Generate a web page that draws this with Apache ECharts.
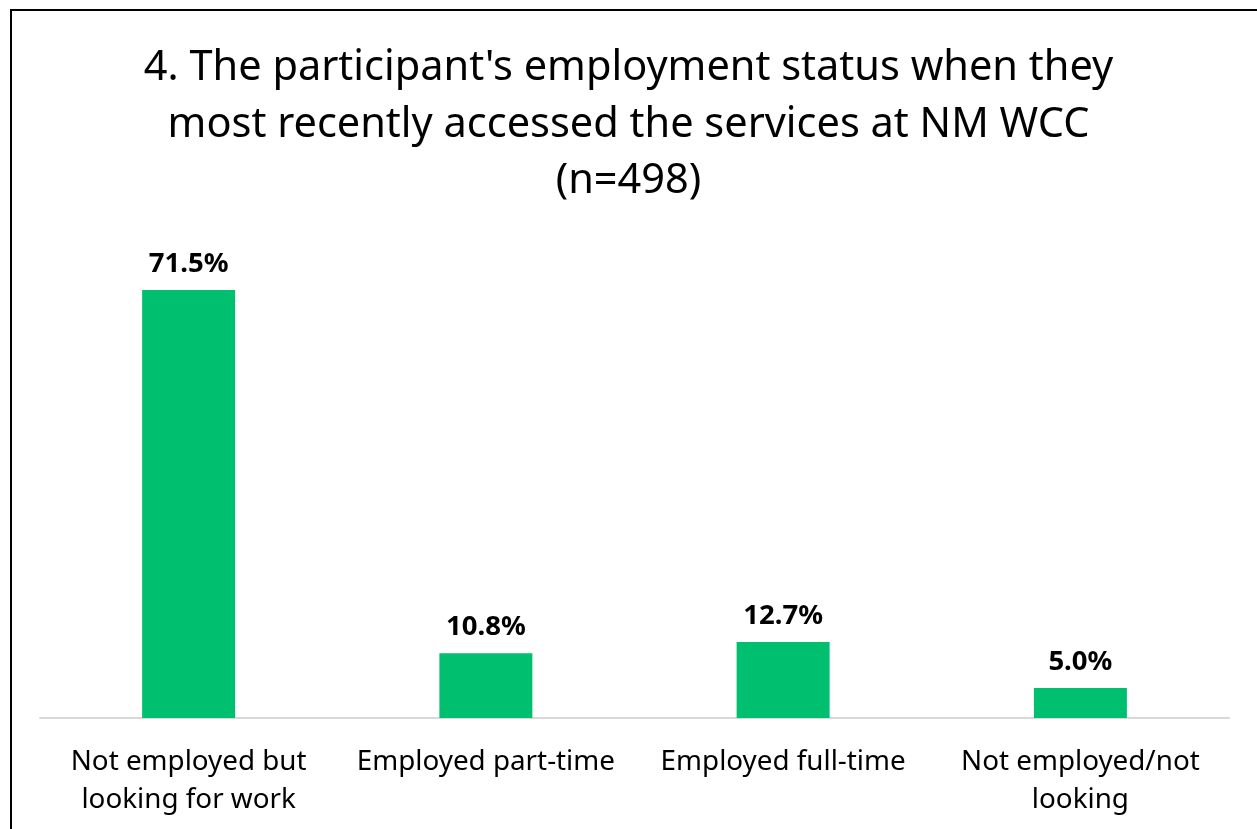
<!DOCTYPE html>
<html>
<head>
<meta charset="utf-8">
<script src="https://cdn.jsdelivr.net/npm/echarts@6/dist/echarts.min.js"></script>
<style>
  html, body { margin: 0; padding: 0; background: #fff; }
  #chart { width: 1257px; height: 829px; }
</style>
</head>
<body>
<div id="chart"></div>
<script>
// Employment status at most recent visit (share of participants, %)
const categories = [
  'Not employed but\nlooking for work',
  'Employed part-time',
  'Employed full-time',
  'Not employed/not\nlooking'
];
const shares = [71.5, 10.8, 12.7, 5.0];
const titleText = "4. The participant's employment status when they\nmost recently accessed the services at NM WCC\n(n=498)";

const chart = echarts.init(document.getElementById('chart'));
chart.setOption({
  animation: false,
  backgroundColor: '#ffffff',
  title: {
    text: titleText,
    left: 'center',
    top: 35,
    textStyle: {
      fontFamily: 'Noto Sans',
      fontWeight: 'normal',
      fontSize: 41.5,
      lineHeight: 56.5,
      color: '#000'
    }
  },
  graphic: [{
    type: 'rect',
    shape: { x: 11, y: 10, width: 1400, height: 1000 },
    style: { fill: 'none', stroke: '#000', lineWidth: 2 },
    silent: true
  }],
  grid: { left: 40, right: 28, top: 239, bottom: 111 },
  xAxis: {
    type: 'category',
    data: categories,
    axisLine: { lineStyle: { color: '#d9d9d9', width: 2 } },
    axisTick: { show: false },
    axisLabel: {
      interval: 0,
      margin: 25,
      fontFamily: 'Noto Sans',
      fontSize: 27.8,
      lineHeight: 38,
      color: '#000'
    }
  },
  yAxis: {
    type: 'value',
    min: 0,
    max: 80,
    show: false,
    splitLine: { show: false }
  },
  series: [{
    type: 'bar',
    data: shares,
    barWidth: 93,
    itemStyle: { color: '#00bf6f' },
    label: {
      show: true,
      position: 'top',
      distance: 12,
      formatter: p => p.value.toFixed(1) + '%',
      fontFamily: 'Noto Sans',
      fontWeight: 'bold',
      fontSize: 27.5,
      color: '#000'
    }
  }]
});
</script>
</body>
</html>
